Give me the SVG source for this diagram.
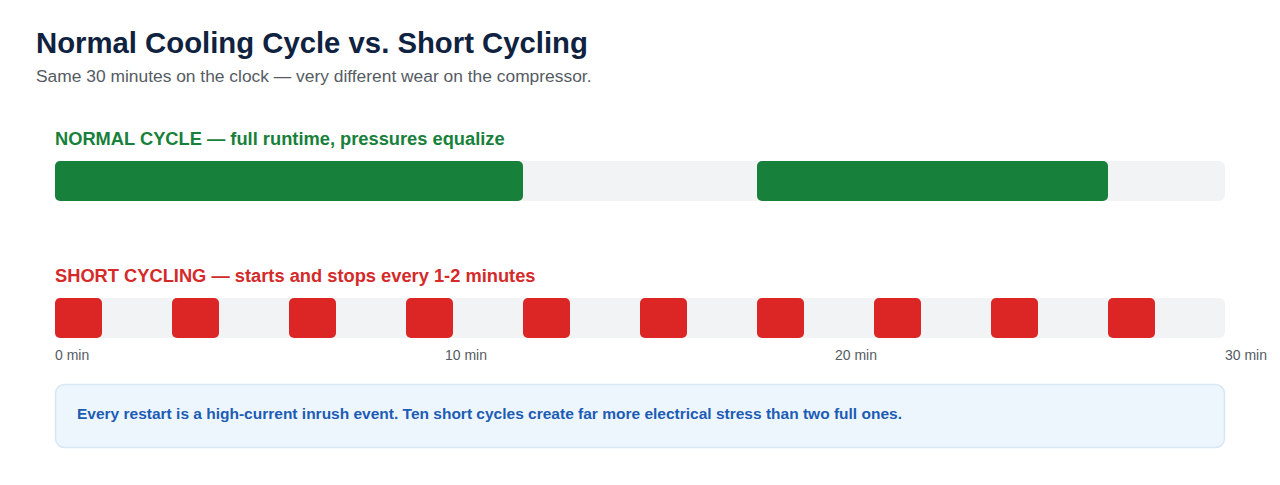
<svg xmlns="http://www.w3.org/2000/svg" width="1280" height="485" viewBox="0 0 1280 485">
<style>
text{font-family:"Liberation Sans",Arial,sans-serif}
.title{font-size:29.3px;font-weight:bold;fill:#0f2240}
.sub{font-size:17.4px;fill:#555b63}
.lab{font-size:18.3px;font-weight:bold}
.track{fill:#f1f3f5}
.on{fill:#17803a}
.sc{fill:#dc2626}
.tick{font-size:14px;fill:#555b63}
.note{font-size:15.5px;font-weight:bold;fill:#1c5cb5}
</style>
<rect width="1280" height="485" fill="#ffffff"/>
<text class="title" x="36" y="53">Normal Cooling Cycle vs. Short Cycling</text>
<text class="sub" x="36" y="82">Same 30 minutes on the clock — very different wear on the compressor.</text>
<g id="normal">
<text class="lab" x="55" y="145" fill="#17803a">NORMAL CYCLE — full runtime, pressures equalize</text>
<rect class="track" x="55" y="161" width="1170" height="40" rx="6"/>
<rect class="on" x="55" y="161" width="468" height="40" rx="5"/>
<rect class="on" x="757" y="161" width="351" height="40" rx="5"/>
</g>
<g id="short">
<text class="lab" x="55" y="282" fill="#d42a2a">SHORT CYCLING — starts and stops every 1-2 minutes</text>
<rect class="track" x="55" y="298" width="1170" height="40" rx="6"/>
<rect class="sc" x="55" y="298" width="47" height="40" rx="5"/>
<rect class="sc" x="172" y="298" width="47" height="40" rx="5"/>
<rect class="sc" x="289" y="298" width="47" height="40" rx="5"/>
<rect class="sc" x="406" y="298" width="47" height="40" rx="5"/>
<rect class="sc" x="523" y="298" width="47" height="40" rx="5"/>
<rect class="sc" x="640" y="298" width="47" height="40" rx="5"/>
<rect class="sc" x="757" y="298" width="47" height="40" rx="5"/>
<rect class="sc" x="874" y="298" width="47" height="40" rx="5"/>
<rect class="sc" x="991" y="298" width="47" height="40" rx="5"/>
<rect class="sc" x="1108" y="298" width="47" height="40" rx="5"/>
</g>
<g id="axis">
<text class="tick" x="55" y="360">0 min</text>
<text class="tick" x="445" y="360">10 min</text>
<text class="tick" x="835" y="360">20 min</text>
<text class="tick" x="1225" y="360">30 min</text>
</g>
<g id="note">
<rect x="55.5" y="384.5" width="1169" height="63" rx="9" fill="#eef6fd" stroke="#d9e7f5" stroke-width="1.5"/>
<text class="note" x="77" y="419">Every restart is a high-current inrush event. Ten short cycles create far more electrical stress than two full ones.</text>
</g>
</svg>
